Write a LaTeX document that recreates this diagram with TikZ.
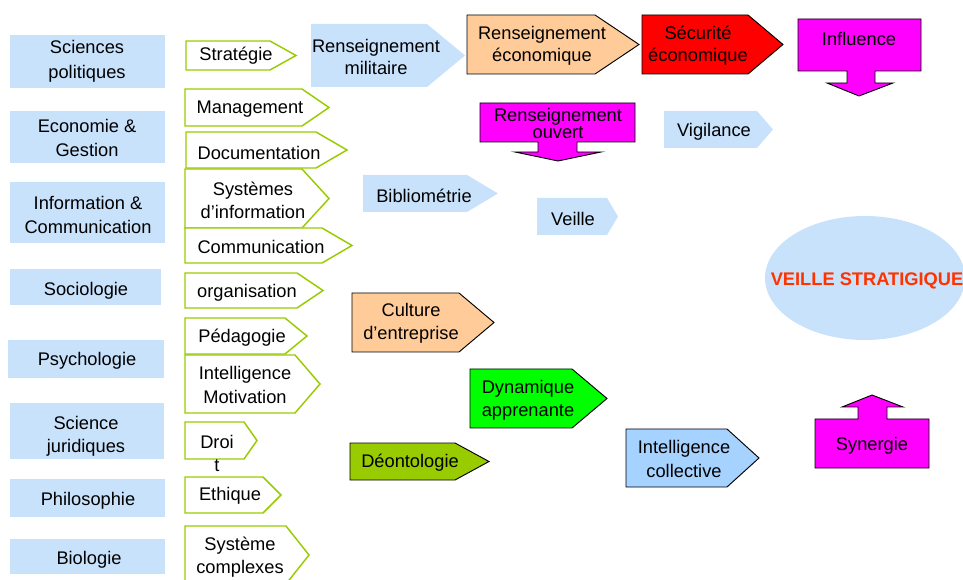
\documentclass[tikz,border=0pt]{standalone}
\usepackage{fontspec}
\setmainfont{Liberation Sans}
\usetikzlibrary{shapes.geometric}

\definecolor{paleblue}{RGB}{200,226,252}
\definecolor{limeline}{RGB}{153,204,0}
\definecolor{peach}{RGB}{255,204,153}
\definecolor{skyblue}{RGB}{166,210,255}
\definecolor{vividgreen}{RGB}{0,255,0}
\definecolor{olivegreen}{RGB}{153,204,0}
\definecolor{pinkfill}{RGB}{255,0,255}
\definecolor{titlered}{RGB}{255,51,0}

% pentagon tag: [style]{left}{top}{body right}{tip}{bottom}
\newcommand\tagshape[6][]{%
  \path[#1] (#2,#3) -- (#4,#3) -- (#5,{(#3+#6)/2}) -- (#4,#6) -- (#2,#6) -- cycle;}

\tikzset{
  field/.style={fill=paleblue},
  skill/.style={draw=limeline, line width=1.1pt, fill=white},
  concept/.style={fill=paleblue},
  stage/.style={draw=black, line width=0.7pt},
  lbl/.style={font=\fontsize{13.7}{17.5}\selectfont, align=center, inner sep=0pt, yshift=-1.6pt},
}

\begin{document}
\begin{tikzpicture}[x=0.75pt, y=-0.75pt]
\useasboundingbox (0,0) rectangle (963,580);

% disciplines
\path[field] (10,35) rectangle (165,88);
\path[field] (10,111) rectangle (165,163);
\path[field] (10,182) rectangle (165,243);
\path[field] (10,269) rectangle (161,305);
\path[field] (8,340) rectangle (164,378);
\path[field] (10,403) rectangle (164,459);
\path[field] (10,479) rectangle (165,517);
\path[field] (10,539) rectangle (165,574);
\node[lbl, font=\fontsize{13.7}{19}\selectfont] (sp) at (87,59) {Sciences\\politiques};
\node[lbl, font=\fontsize{13.7}{18}\selectfont] (eg) at (87,136) {Economie \&\\Gestion};
\node[lbl, font=\fontsize{13.7}{17.5}\selectfont] (ic) at (88,213) {Information \&\\Communication};
\node[lbl] (so) at (86,289) {Sociologie};
\node[lbl] (ps) at (87,359) {Psychologie};
\node[lbl] (sj) at (86,434) {Science\\juridiques};
\node[lbl] (ph) at (88,499) {Philosophie};
\node[lbl] (bi) at (89,558) {Biologie};

% skills
\tagshape[skill]{186}{41}{270}{296}{70}
\tagshape[skill]{185}{89}{302}{329}{126}
\tagshape[skill]{186}{132}{316}{347}{168}
\tagshape[skill]{185}{169}{302}{329}{228}
\tagshape[skill]{185}{228}{322}{352}{263}
\tagshape[skill]{185}{273}{297}{323}{308}
\tagshape[skill]{185}{318}{285}{307}{354}
\tagshape[skill]{185}{355}{295}{320}{413}
\tagshape[skill]{185}{422}{244}{257}{459}
\tagshape[skill]{185}{477}{263}{281}{513}
\tagshape[skill]{185}{526}{286}{309}{584}
\node[lbl] (st) at (236,54) {Stratégie};
\node[lbl] (mg) at (250,107) {Management};
\node[lbl] (dc) at (259,151) {Documentation};
\node[lbl] (si) at (253,198) {Systèmes\\d’information};
\node[lbl] (cm) at (261,245) {Communication};
\node[lbl] (og) at (247,291) {organisation};
\node[lbl] (pd) at (242,336) {Pédagogie};
\node[lbl] (im) at (245,383) {Intelligence\\Motivation};
\node[lbl] (dr) at (217,451) {Droi\\t};
\node[lbl] (et) at (230,494) {Ethique};
\node[lbl] (sc) at (240,555) {Système\\complexes};

% light blue concepts
\tagshape[concept]{311}{24}{427}{465}{87}
\tagshape[concept]{363}{175}{467}{498}{212}
\tagshape[concept]{537}{198}{607}{618}{235}
\tagshape[concept]{664}{111}{757}{773}{148}
\node[lbl, font=\fontsize{13.7}{16.5}\selectfont] (rm) at (376,55) {Renseignement\\militaire};
\node[lbl] (bm) at (424,194) {Bibliométrie};
\node[lbl] (ve) at (573,217) {Veille};
\node[lbl] (vg) at (714,130) {Vigilance};

% coloured stages
\tagshape[stage, fill=peach]{467}{15}{595}{639}{74}
\tagshape[stage, fill=red]{642}{15}{748}{783}{74}
\tagshape[stage, fill=peach]{352}{293}{459}{494}{352}
\tagshape[stage, fill=vividgreen]{470}{369}{572}{607}{428}
\tagshape[stage, fill=olivegreen]{350}{443}{455}{489}{480}
\tagshape[stage, fill=skyblue]{626}{429}{727}{759}{487}
\node[lbl, font=\fontsize{13.7}{16.5}\selectfont] (re) at (542,44) {Renseignement\\économique};
\node[lbl, font=\fontsize{13.7}{16.5}\selectfont] (se) at (698,44) {Sécurité\\économique};
\node[lbl] (ce) at (411,321) {Culture\\d’entreprise};
\node[lbl] (da) at (528,398) {Dynamique\\apprenante};
\node[lbl] (de) at (410,461) {Déontologie};
\node[lbl] (ci) at (684,457) {Intelligence\\collective};

% block arrows
\path[stage, fill=pinkfill] (798,19) -- (921,19) -- (921,71) -- (875,71) -- (875,83)
  -- (893,83) -- (859,96) -- (827,83) -- (847,83) -- (847,71) -- (798,71) -- cycle;
\path[stage, fill=pinkfill] (480,103) -- (635,103) -- (635,142) -- (577,142) -- (577,152)
  -- (601,152) -- (558,161) -- (515,152) -- (538,152) -- (538,142) -- (480,142) -- cycle;
\path[stage, fill=pinkfill] (815,468) -- (929,468) -- (929,419) -- (887,419) -- (887,407)
  -- (903,407) -- (872,395) -- (842,407) -- (858,407) -- (858,419) -- (815,419) -- cycle;
\node[lbl] (in) at (859,37) {Influence};
\node[lbl, font=\fontsize{13.7}{10}\selectfont] (ro) at (558,121) {Renseignement\\ouvert};
\node[lbl] (sy) at (872,444) {Synergie};

% goal
\path[fill=paleblue] (865,278) ellipse [x radius=100, y radius=62];
\node[lbl, font=\bfseries\fontsize{13.7}{16}\selectfont, text=titlered] (vs) at (867,279) {VEILLE STRATIGIQUE};
\end{tikzpicture}
\end{document}
